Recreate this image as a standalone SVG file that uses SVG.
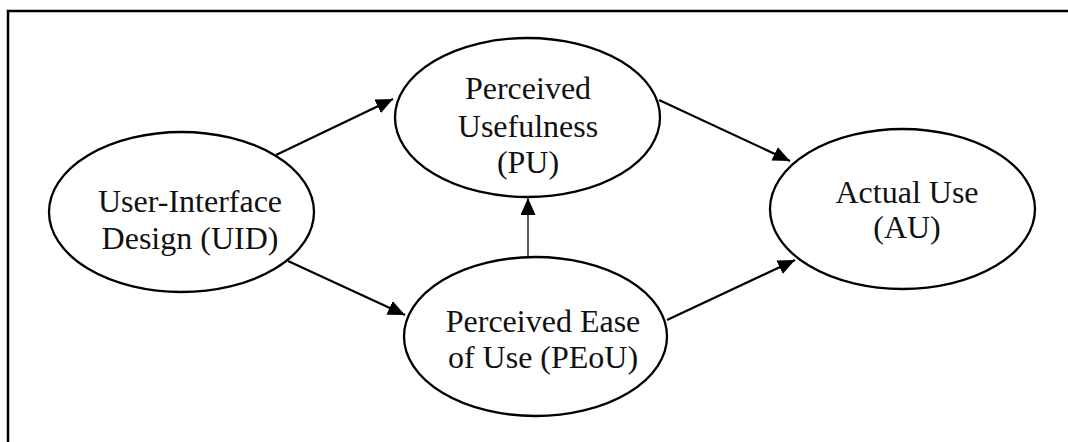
<svg xmlns="http://www.w3.org/2000/svg" width="1068" height="442" viewBox="0 0 1068 442">
<style>
.node ellipse{fill:#fff;stroke:#000;stroke-width:2.3}
.node text{font-family:"Liberation Serif","Times New Roman",serif;font-size:32px;fill:#111;text-anchor:middle}
.edge{stroke:#000;stroke-width:2.2;fill:none;marker-end:url(#arr)}
.thin{stroke-width:1.3}
</style>
<defs>
<marker id="arr" markerUnits="userSpaceOnUse" viewBox="0 0 17 15" refX="17" refY="7.5" markerWidth="17" markerHeight="15" orient="auto">
<path d="M0,0 L17,7.5 L0,15 Z" fill="#000"/>
</marker>
</defs>
<rect x="8" y="11" width="1100" height="500" fill="none" stroke="#000" stroke-width="2.5"/>
<g id="connectors">
<line class="edge" x1="276" y1="155" x2="393" y2="99"/>
<line class="edge" x1="288" y1="261" x2="405" y2="315"/>
<line class="edge thin" x1="528" y1="258" x2="528" y2="198"/>
<line class="edge" x1="659" y1="100" x2="790" y2="161"/>
<line class="edge" x1="667" y1="320" x2="795" y2="260"/>
</g>
<g id="uid" class="node">
<ellipse cx="181.5" cy="212" rx="132.5" ry="80"/>
<text x="190" y="212">User-Interface</text>
<text x="190" y="249">Design (UID)</text>
</g>
<g id="pu" class="node">
<ellipse cx="527.5" cy="117.5" rx="132.5" ry="79.5"/>
<text x="528" y="99">Perceived</text>
<text x="528" y="137">Usefulness</text>
<text x="528" y="173">(PU)</text>
</g>
<g id="peou" class="node">
<ellipse cx="535.5" cy="336.5" rx="131.5" ry="79.5"/>
<text x="543" y="332">Perceived Ease</text>
<text x="543" y="368">of Use (PEoU)</text>
</g>
<g id="au" class="node">
<ellipse cx="902.5" cy="209" rx="132.5" ry="80"/>
<text x="907" y="203">Actual Use</text>
<text x="907" y="238">(AU)</text>
</g>
</svg>
